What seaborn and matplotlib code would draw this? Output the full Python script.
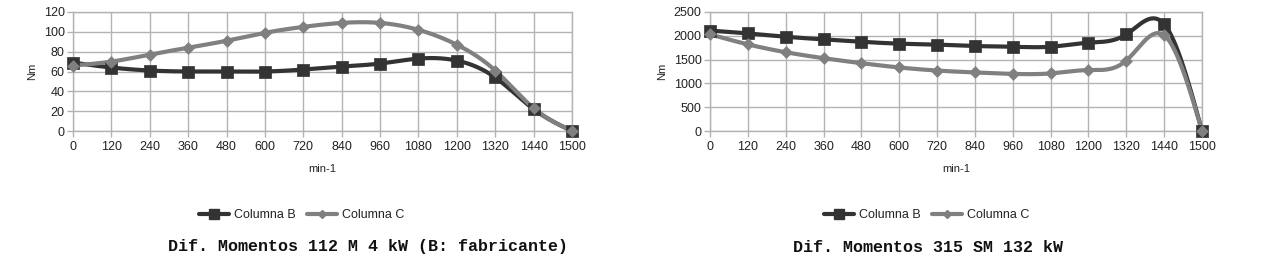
import numpy as np
import pandas as pd
import matplotlib
matplotlib.use("Agg")
import matplotlib.pyplot as plt
import seaborn as sns
from matplotlib.lines import Line2D

# ---- data ----
rpm_labels = ["0", "120", "240", "360", "480", "600", "720", "840", "960",
              "1080", "1200", "1320", "1440", "1500"]

left_b = [69, 64, 61, 60, 60, 60, 62, 65, 68, 73, 71, 54, 22, 0]
left_c = [66, 70, 77, 84, 91, 99, 105, 109, 109, 102, 87, 61, 23, 0]

right_b = [2110, 2050, 1980, 1925, 1875, 1835, 1815, 1785, 1770, 1770, 1855, 2030, 2245, 0]
right_c = [2030, 1820, 1655, 1530, 1425, 1335, 1270, 1230, 1200, 1210, 1280, 1480, 2010, 0]

titles = ["Dif. Momentos 112 M 4 kW (B: fabricante)", "Dif. Momentos 315 SM 132 kW"]
series_names = ["Columna B", "Columna C"]

COL_B = "#333333"
COL_C = "#808080"

sns.set_theme(style="white")
plt.rcParams["font.family"] = ["Liberation Sans", "DejaVu Sans"]


def natural_spline(x, y, xs):
    x = np.asarray(x, float)
    y = np.asarray(y, float)
    n = len(x)
    h = np.diff(x)
    A = np.zeros((n, n))
    r = np.zeros(n)
    A[0, 0] = 1
    A[-1, -1] = 1
    for i in range(1, n - 1):
        A[i, i - 1] = h[i - 1]
        A[i, i] = 2 * (h[i - 1] + h[i])
        A[i, i + 1] = h[i]
        r[i] = 6 * ((y[i + 1] - y[i]) / h[i] - (y[i] - y[i - 1]) / h[i - 1])
    M = np.linalg.solve(A, r)
    out = np.empty_like(xs, dtype=float)
    for k, t in enumerate(xs):
        i = min(max(np.searchsorted(x, t) - 1, 0), n - 2)
        a = x[i + 1] - t
        b = t - x[i]
        out[k] = (M[i] * a**3 / (6 * h[i]) + M[i + 1] * b**3 / (6 * h[i])
                  + (y[i] / h[i] - M[i] * h[i] / 6) * a
                  + (y[i + 1] / h[i] - M[i + 1] * h[i] / 6) * b)
    return out


W, H = 1275, 277
fig = plt.figure(figsize=(W / 100, H / 100), dpi=100)

panels = [
    dict(b=left_b, c=left_c, ymax=120, ystep=20, x0=73, x1=572, title=titles[0],
         leg_cx=302, title_cx=368),
    dict(b=right_b, c=right_c, ymax=2500, ystep=500, x0=710, x1=1202, title=titles[1],
         leg_cx=927, title_cx=928),
]

idx = np.arange(len(rpm_labels))
fine = np.linspace(0, len(rpm_labels) - 1, 600)

for p in panels:
    ax = fig.add_axes([p["x0"] / W, 1 - 131 / H, (p["x1"] - p["x0"]) / W, (131 - 12) / H])
    for vals, col, mk, ms in [(p["b"], COL_B, "s", 9), (p["c"], COL_C, "D", 6)]:
        df_line = pd.DataFrame({"x": fine, "y": natural_spline(idx, vals, fine)})
        sns.lineplot(data=df_line, x="x", y="y", color=col, lw=3, ax=ax, clip_on=False,
                     zorder=3)
        df_pts = pd.DataFrame({"x": idx, "y": vals})
        sns.scatterplot(data=df_pts, x="x", y="y", marker=mk, s=ms**2, color=col,
                        edgecolor=col, linewidth=0.5, ax=ax, clip_on=False, zorder=4)
    ax.set_xlim(0, len(rpm_labels) - 1)
    ax.set_ylim(0, p["ymax"])
    ax.set_xticks(idx)
    ax.set_xticklabels(rpm_labels)
    ax.set_yticks(np.arange(0, p["ymax"] + 1, p["ystep"]))
    ax.grid(True, color="#b3b3b3", lw=1)
    ax.set_axisbelow(True)
    for s in ax.spines.values():
        s.set_color("#b3b3b3")
        s.set_linewidth(1)
    ax.tick_params(axis="both", which="both", length=4, width=1, color="#b3b3b3",
                   labelsize=9, labelcolor="#222222", direction="out",
                   bottom=True, left=True)
    ax.tick_params(axis="y", pad=2)
    ax.tick_params(axis="x", pad=3)
    ax.set_xlabel("min-1", fontsize=8, color="#222222", labelpad=8)
    ax.set_ylabel("Nm", fontsize=8, color="#222222", labelpad=5)

    handles = [Line2D([], [], color=COL_B, lw=3, marker="s", ms=7),
               Line2D([], [], color=COL_C, lw=3, marker="D", ms=4)]
    fig.legend(handles, series_names, loc="center", ncol=2, frameon=False,
               bbox_to_anchor=(p["leg_cx"] / W, 1 - 215 / H), fontsize=9,
               handlelength=2.4, handletextpad=0.4, columnspacing=0.9, labelcolor="#222222")
    fig.text(p["title_cx"] / W, 1 - 247 / H, p["title"], ha="center", va="center",
             family=["Liberation Mono", "DejaVu Sans Mono"], fontweight="bold",
             fontsize=12, color="#111111")

fig.savefig("out.png", dpi=100)
